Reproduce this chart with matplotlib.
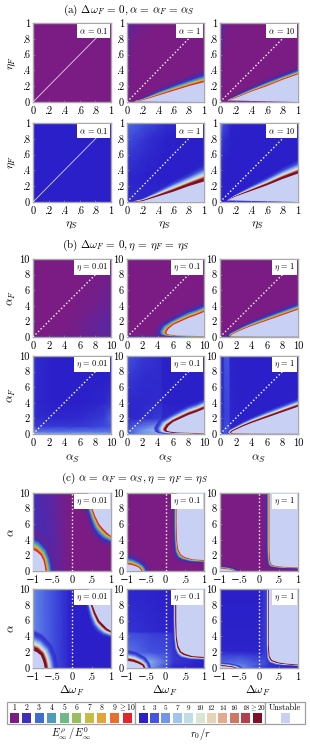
#!/usr/bin/env python3
"""Stability maps of the front speed and radius for three parameter sweeps."""
import matplotlib
matplotlib.use("Agg")
import matplotlib.pyplot as plt
import numpy as np
from matplotlib.colors import LinearSegmentedColormap, Normalize
from matplotlib.patches import Rectangle

plt.rcParams["mathtext.fontset"] = "cm"
plt.rcParams["font.family"] = ["cmr10", "DejaVu Serif"]
plt.rcParams["axes.formatter.use_mathtext"] = True

# legend scales
E_LEVELS = [1, 2, 3, 4, 5, 6, 7, 8, 9, 10]
E_LABELS = ["1", "2", "3", "4", "5", "6", "7", "8", "9", r"$\geq$10"]
E_COLORS = ["#7b1c84", "#3f2fbb", "#3e6fd0", "#4e9db8", "#6fb888",
            "#98be5e", "#c5be42", "#e4a43a", "#e86f2e", "#e3262a"]
R_LEVELS = [1, 3, 5, 7, 9, 10, 12, 14, 16, 18, 20]
R_LABELS = ["1", "3", "5", "7", "9", "10", "12", "14", "16", "18", r"$\geq$20"]
R_COLORS = ["#2a1fc8", "#4455e0", "#7396ec", "#a0c4ee", "#bedde6", "#dce4d4",
            "#e8d4b4", "#e4aa8c", "#cc7865", "#b0404c", "#7e1028"]
UNSTABLE = "#c8d0f4"

# background fields: x knots, y knots, values with the lowest y row first
FLAT_ETA = ([0, 1], [0, 1], [[1, 1], [1, 1]])
A2_FIELD = ([0, .1, .3, 1], [0, .5, .8, 1],
            [[1.1, 1, 1, 1], [1.2, 1, 1, 1], [1.4, 1.1, 1, 1], [1.7, 1.3, 1, 1]])
A3_FIELD = ([0, .05, .15, 1], [0, .5, .8, 1],
            [[1.2, 1, 1, 1], [1.5, 1, 1, 1], [1.8, 1.1, 1, 1], [2, 1.3, 1, 1]])
B2_FIELD = ([0, .25, .5, .8, 1], [0, .3, .6, .8, 1],
            [[1.5, 1.5, 1.5, 1.5, 1.5], [1.3, 1, 1, 1, 1.5],
             [2, 1.4, 1, 1, 1], [2.8, 1.7, 1.1, 1, 1], [3.6, 2.6, 1.6, 1, 1]])
B3_FIELD = ([0, .05, .15, .3, 1], [0, .5, .8, 1],
            [[1, 1, 1, 1, 1], [2, 1.2, 1, 1, 1], [3, 1.6, 1, 1, 1], [5, 2.6, 1.2, 1, 1]])
C1_FIELD = ([0, .2, .6, 2, 5, 8, 10], [0, .2, .5, 1.5, 4, 10],
            [[1.8, 1.8, 1.7, 1.7, 1.7, 1.8, 1.8],
             [2, 1.2, 1.05, 1.05, 1.2, 1.4, 1.5],
             [2, 1.1, 1, 1, 1.1, 1.4, 1.5],
             [2, 1.1, 1, 1, 1.05, 1.4, 1.6],
             [2, 1.1, 1, 1, 1, 1.2, 1.4],
             [2, 1.1, 1, 1, 1, 1, 1]])
C2_FIELD = ([0, 10], [0, .15, .3, 10], [[2, 2], [1.6, 1.6], [1, 1], [1, 1]])
C3_FIELD = ([0, 10], [0, .15, .3, 10], [[2, 2], [1.5, 1.5], [1, 1], [1, 1]])
D1_FIELD = ([0, .5, 3, 6, 9, 10], [0, .3, 1, 2, 4, 7, 10],
            [[6, 6, 6, 6, 6, 6], [5, 4, 4, 4, 4, 4], [2.5, 2, 2, 2, 2.5, 3],
             [2, 1.5, 1.3, 1.5, 2, 3.5], [2, 1.3, 1, 1, 1.3, 1.8],
             [2, 1.3, 1, 1, 1, 1.2], [2, 1.5, 1, 1, 1, 1.2]])
D2_FIELD = ([0, 2, 4.4, 4.7, 10], [0, .5, 2, 4, 7, 10],
            [[3, 5, 6, 4, 1.5], [3, 5, 7, 5, 2], [1.3, 1.5, 2.2, 1.5, 1.1],
             [1.3, 1.3, 1.5, 1.1, 1], [2, 1.5, 1.4, 1.1, 1], [3, 2, 1.5, 1.1, 1]])
D3_FIELD = ([0, .4, .6, 1.2, 1.3, 3, 10], [0, .3, 1, 3, 10],
            [[3, 3, 3, 3, 2, 1, 1], [2, 2, 3, 4, 2, 1, 1],
             [2, 2, 2.5, 2.5, 1.3, 1, 1], [1.5, 1.5, 2.2, 2.5, 1.3, 1, 1],
             [1.5, 1.5, 3, 3, 1.2, 1, 1]])
E1_FIELD = ([-1, -.6, -.2, 0, .3, 1], [0, 10],
            [[1.8, 1.8, 1.2, 1, 1, 1], [1.9, 1.6, 1.15, 1, 1, 1]])
E2_FIELD = ([-1, 1], [0, 10], [[1, 1], [1, 1]])
E3_FIELD = ([-1, 1], [0, 10], [[1, 1], [1, 1]])
F1_FIELD = ([-1, -.7, -.4, -.1, 0, 1], [0, 10],
            [[4.5, 3.5, 2.5, 1.3, 1, 1], [4.5, 3.5, 2.5, 1.3, 1, 1]])
F2_FIELD = ([-1, -.4, .1, .2, 1], [0, .8, 2, 4.4, 4.6, 10],
            [[6, 5, 2, 1.2, 1], [6, 6, 3, 2, 1], [4, 3, 2.5, 2, 1],
             [3, 2.2, 2, 1.7, 1], [1.8, 1.5, 1.2, 1.2, 1], [1.3, 1.2, 1, 1, 1]])
F3_FIELD = ([-1, -.5, 0, .12, .25, 1], [0, .6, 1.7, 2.2, 10],
            [[5, 5, 2.5, 2, 1.5, 1], [3.5, 4, 3, 3, 2, 1],
             [2.2, 2.2, 1.8, 2.2, 2.5, 1], [1.2, 1.2, 1.2, 2, 2.5, 1],
             [1, 1, 1, 1.8, 2.5, 1]])

# unstable edges: edge x, edge y, halo x, halo y, extra polygon corner
ETA_X = [.1, .2, .4, .6, .8, 1]
A2_EDGE = (ETA_X, [.005, .02, .08, .14, .2, .25], ETA_X, [.02, .06, .17, .26, .34, .42], [(1, 0)])
A3_EDGE = (ETA_X, [.02, .05, .13, .2, .28, .35], ETA_X, [.03, .1, .2, .3, .37, .45], [(1, 0)])
B2_EDGE = (ETA_X, [0, .01, .07, .13, .2, .26], ETA_X, [.02, .05, .16, .28, .38, .5], [(1, 0)])
B3_EDGE = (ETA_X, [.02, .07, .14, .21, .29, .36], ETA_X, [.03, .1, .22, .33, .45, .55], [(1, 0)])

NOSE_MID_X = [10, 9, 8, 7, 6, 5.4, 5.1, 5.2, 5.6, 6.5, 8, 10]
NOSE_MID_Y = [3.2, 2.8, 2.45, 2, 1.55, 1.05, .6, .4, .3, .2, .15, .1]
NOSE_MID_HX = [10, 9, 8, 7, 5.5, 4, 3.4, 3.5, 4, 5, 7, 10]
NOSE_MID_HY = [4.7, 4.2, 3.9, 3.4, 2.6, 1.8, .8, .3, .1, 0, 0, 0]
NOSE_LOW_X = [10, 8, 6, 4, 3, 2, 1.6, 1.4, 1.6, 3, 6, 10]
NOSE_LOW_Y = [3.5, 2.8, 2.1, 1.4, 1, .55, .35, .2, .1, .08, .05, .05]
NOSE_LOW_HX = [10, 8, 6, 4, 3, 1.8, 1, .8, 1, 2, 5, 10]
NOSE_LOW_HY = [4.7, 3.9, 3.1, 2.2, 1.7, 1, .6, .2, 0, 0, 0, 0]
C2_EDGE = (NOSE_MID_X, NOSE_MID_Y, NOSE_MID_HX, NOSE_MID_HY, [])
C3_EDGE = (NOSE_LOW_X, NOSE_LOW_Y, NOSE_LOW_HX, NOSE_LOW_HY, [])

E1_LOBE = ([-1, -.9, -.8, -.73, -.7, -.68], [2.7, 2.45, 2, 1.3, .6, 0],
           [-1, -.8, -.55, -.45, -.4, -.38], [5.5, 5, 3.5, 2, 1, 0], [(-1, 0)])
E1_RIGHT = ([.42, .5, .6, .7, .8, .9, 1], [10, 8.3, 7, 6, 5.4, 4.9, 4.5],
            [.25, .3, .38, .45, .55, .7, 1], [10, 8, 6.3, 5, 4.2, 3.5, 3], [(1, 10)])
E2_LOBE = ([-1, -.9, -.8, -.7, -.65, -.63], [.85, .8, .65, .45, .2, 0],
           [-1, -.8, -.55, -.45, -.4, -.38], [2.5, 2.2, 1.5, .9, .4, 0], [(-1, 0)])
E2_RIGHT = ([.29, .29, .3, .33, .4, .5, .7, 1], [10, 6, 4, 2.8, 2.1, 1.8, 1.5, 1.4],
            [.17, .17, .18, .2, .25, .35, .6, 1], [10, 6, 3.5, 2, 1.5, 1.2, 1, .9], [(1, 10)])
E3_LOBE = ([-1, -.85, -.72, -.65], [.3, .25, .15, 0],
           [-1, -.8, -.6, -.5], [.8, .7, .4, 0], [(-1, 0)])
E3_RIGHT = ([.27, .27, .28, .3, .35, .5, .7, 1], [10, 3, 1.6, 1, .75, .6, .52, .47],
            [.15, .15, .17, .2, .25, .4, .6, 1], [10, 3, 1.2, .6, .4, .3, .25, .2], [(1, 10)])
F1_LOBE = ([-1, -.9, -.8, -.75, -.72, -.7], [2.2, 2, 1.6, 1, .5, 0],
           [-1, -.75, -.5, -.4, -.36, -.34], [5, 4.4, 3, 1.8, .8, 0], [(-1, 0)])
F1_RIGHT = ([.43, .5, .6, .7, .8, .9, 1], [10, 8.3, 7, 6, 5.5, 5, 4.7],
            [.3, .35, .42, .5, .6, .75, 1], [10, 8, 6.3, 5.2, 4.5, 4, 3.7], [(1, 10)])
F2_LOBE = ([-1, -.85, -.7, -.6, -.57], [.9, .8, .55, .3, 0],
           [-1, -.75, -.5, -.4, -.36], [2.4, 2.1, 1.4, .7, 0], [(-1, 0)])
F2_RIGHT = ([.28, .28, .29, .33, .4, .5, .7, 1], [10, 6, 4, 2.8, 2.1, 1.8, 1.5, 1.4],
            [.18, .18, .2, .22, .27, .35, .6, 1], [10, 6, 3.5, 2.2, 1.6, 1.2, 1, .95], [(1, 10)])
F3_LOBE = ([-1, -.85, -.7, -.62], [.25, .2, .1, 0],
           [-1, -.75, -.5, -.4], [.7, .6, .35, 0], [(-1, 0)])
F3_RIGHT = ([.25, .25, .27, .33, .5, .7, 1], [10, 3, 1.5, 1, .7, .55, .45],
            [.17, .17, .19, .24, .4, .6, 1], [10, 3, 1.1, .6, .35, .28, .22], [(1, 10)])

# value along the halo, going out from the unstable edge
E_RAMP = ([0, .1, .2, .35, .55, 1], [10, 10, 7.5, 4, 2, 1])
R_RAMP = ([0, .18, .25, .35, .5, .7, 1], [20, 20, 16, 10, 6, 2.5, 1])

ETA_TICKS = [0, .2, .4, .6, .8, 1]
ETA_TICK_LABELS = ["0", ".2", ".4", ".6", ".8", "1"]
ALPHA_TICKS = [0, 2, 4, 6, 8, 10]
ALPHA_TICK_LABELS = ["0", "2", "4", "6", "8", "10"]
DW_TICKS = [-1, -.5, 0, .5, 1]
DW_TICK_LABELS = ["\u22121", "\u2212.5", "0", ".5", "1"]

COL_X = [(33, 111), (127, 204), (220, 298)]
ROW_Y = [(23, 102), (123, 202), (259, 337), (356, 434), (493, 571), (589, 668)]
W, H = 310, 744


def make_scale(levels, colors):
    vmin, vmax = levels[0], levels[-1]
    stops = [(v - vmin) / (vmax - vmin) for v in levels]
    return LinearSegmentedColormap.from_list("scale", list(zip(stops, colors))), Normalize(vmin, vmax)


def draw_edge(ax, edge, cmap, norm, ramp):
    x, y, hx, hy, corners = [np.asarray(v, dtype=float) if i < 4 else v for i, v in enumerate(edge)]
    for t in np.linspace(1, 0, 30):
        lx, ly = x + (hx - x) * t, y + (hy - y) * t
        value = np.interp(t, ramp[0], ramp[1])
        ax.fill(np.r_[lx, x[::-1]], np.r_[ly, y[::-1]], color=cmap(norm(value)),
                alpha=min(1, (1 - t) * 5), lw=0, zorder=2)
    px = np.r_[x, [c[0] for c in corners]]
    py = np.r_[y, [c[1] for c in corners]]
    ax.fill(px, py, color=UNSTABLE, lw=0, zorder=3)


def draw_panel(fig, row, col, field, edges, limits, ticks, tick_labels, tag, cmap, norm, ramp, guide):
    x0, x1 = COL_X[col]
    y0, y1 = ROW_Y[row]
    ax = fig.add_axes([x0 / W, 1 - y1 / H, (x1 - x0) / W, (y1 - y0) / H])
    fx, fy, fv = field
    ax.pcolormesh(fx, fy, np.array(fv, dtype=float), shading="gouraud", cmap=cmap, norm=norm, zorder=1)
    for edge in edges:
        draw_edge(ax, edge, cmap, norm, ramp)
    ax.set_xlim(limits[0])
    ax.set_ylim(limits[1])
    ax.set_xticks(ticks[0], tick_labels[0])
    ax.set_yticks(ticks[1], tick_labels[1])
    ax.tick_params(labelsize=7.5, length=1.5, width=0.5, color="#888888", pad=2.2, direction="in")
    ax.tick_params(axis="x", pad=3.2)
    for spine in ax.spines.values():
        spine.set_color("#a8a8a8")
        spine.set_linewidth(1.0)

    # guide line stops under the tag box
    if guide == "solid":
        ax.plot([limits[0][0], limits[0][1] * .88], [limits[1][0], limits[1][1] * .88],
                color="white", lw=0.6, alpha=.8, zorder=4)
    elif guide == "dots":
        ax.plot([limits[0][0], limits[0][1] * .88], [limits[1][0], limits[1][1] * .88],
                color="white", lw=1.0, ls=(0, (1, 1.6)), zorder=4)
    else:
        ax.plot([0, 0], limits[1], color="white", lw=1.0, ls=(0, (1, 1.6)), zorder=4)
    ax.text(.965, .96, tag, transform=ax.transAxes, ha="right", va="top", fontsize=6, zorder=5,
            bbox=dict(facecolor="white", edgecolor="none", pad=1.5))


def main():
    e_cmap, e_norm = make_scale(E_LEVELS, E_COLORS)
    r_cmap, r_norm = make_scale(R_LEVELS, R_COLORS)
    fig = plt.figure(figsize=(W / 100, H / 100), dpi=100)

    alpha_tags = [r"$\alpha\,=\,0.1$", r"$\alpha\,=\,1$", r"$\alpha\,=\,10$"]
    eta_tags = [r"$\eta\,=\,0.01$", r"$\eta\,=\,0.1$", r"$\eta\,=\,1$"]
    sections = [
        (0, [FLAT_ETA, A2_FIELD, A3_FIELD], [[], [A2_EDGE], [A3_EDGE]], alpha_tags,
         ((0, 1), (0, 1)), (ETA_TICKS, ETA_TICKS), (ETA_TICK_LABELS, ETA_TICK_LABELS), "e"),
        (1, [FLAT_ETA, B2_FIELD, B3_FIELD], [[], [B2_EDGE], [B3_EDGE]], alpha_tags,
         ((0, 1), (0, 1)), (ETA_TICKS, ETA_TICKS), (ETA_TICK_LABELS, ETA_TICK_LABELS), "r"),
        (2, [C1_FIELD, C2_FIELD, C3_FIELD], [[], [C2_EDGE], [C3_EDGE]], eta_tags,
         ((0, 10), (0, 10)), (ALPHA_TICKS, ALPHA_TICKS), (ALPHA_TICK_LABELS, ALPHA_TICK_LABELS), "e"),
        (3, [D1_FIELD, D2_FIELD, D3_FIELD], [[], [C2_EDGE], [C3_EDGE]], eta_tags,
         ((0, 10), (0, 10)), (ALPHA_TICKS, ALPHA_TICKS), (ALPHA_TICK_LABELS, ALPHA_TICK_LABELS), "r"),
        (4, [E1_FIELD, E2_FIELD, E3_FIELD], [[E1_LOBE, E1_RIGHT], [E2_LOBE, E2_RIGHT], [E3_LOBE, E3_RIGHT]], eta_tags,
         ((-1, 1), (0, 10)), (DW_TICKS, ALPHA_TICKS), (DW_TICK_LABELS, ALPHA_TICK_LABELS), "e"),
        (5, [F1_FIELD, F2_FIELD, F3_FIELD], [[F1_LOBE, F1_RIGHT], [F2_LOBE, F2_RIGHT], [F3_LOBE, F3_RIGHT]], eta_tags,
         ((-1, 1), (0, 10)), (DW_TICKS, ALPHA_TICKS), (DW_TICK_LABELS, ALPHA_TICK_LABELS), "r"),
    ]
    for row, fields, edges, tags, limits, ticks, labels, kind in sections:
        cmap, norm, ramp = (e_cmap, e_norm, E_RAMP) if kind == "e" else (r_cmap, r_norm, R_RAMP)
        for col in range(3):
            if row >= 4:
                guide = "vert"
            elif row < 2 and col == 0:
                guide = "solid"
            else:
                guide = "dots"
            draw_panel(fig, row, col, fields[col], edges[col], limits, ticks, labels,
                       tags[col], cmap, norm, ramp, guide)

    # pixel-space overlay for titles, axis names and the legend strip
    over = fig.add_axes([0, 0, 1, 1], facecolor="none")
    over.set_xlim(0, W)
    over.set_ylim(H, 0)
    over.axis("off")

    over.text(129, 10, r"(a) $\Delta\omega_F\,=\,0, \alpha\,=\,\alpha_F\,=\,\alpha_S$", ha="center", va="center", fontsize=8)
    over.text(126, 245, r"(b) $\Delta\omega_F\,=\,0, \eta\,=\,\eta_F\,=\,\eta_S$", ha="center", va="center", fontsize=8)
    over.text(135, 478, r"(c) $\alpha\,=\,\alpha_F\,=\,\alpha_S, \eta\,=\,\eta_F\,=\,\eta_S$", ha="center", va="center", fontsize=8)

    for y, name in [(63, r"$\eta_F$"), (162, r"$\eta_F$"), (298, r"$\alpha_F$"), (395, r"$\alpha_F$"), (532, r"$\alpha$"), (628, r"$\alpha$")]:
        over.text(12, y, name, rotation=90, ha="center", va="center", fontsize=8.5)
    for y, name in [(225, r"$\eta_S$"), (459, r"$\alpha_S$"), (691, r"$\Delta\omega_F$")]:
        for x in (72, 165, 258):
            over.text(x, y, name, ha="center", va="center", fontsize=8.5)

    for x0, x1 in [(7, 135), (135, 265), (265, 305)]:
        over.add_patch(Rectangle((x0, 702), x1 - x0, 22, fc="white", ec="#a0a0a0", lw=0.9))
    e_x = np.linspace(14, 127, len(E_LEVELS))
    for x, label, color in zip(e_x, E_LABELS, E_COLORS):
        over.text(x, 708, label, ha="center", va="center", fontsize=5.5)
        over.add_patch(Rectangle((x - 4.5, 713), 9, 9.5, fc=color, ec="none"))
    r_x = np.linspace(143, 257, len(R_LEVELS))
    for x, label, color in zip(r_x, R_LABELS, R_COLORS):
        over.text(x, 708, label, ha="center", va="center", fontsize=5.2)
        over.add_patch(Rectangle((x - 4.5, 713), 9, 9.5, fc=color, ec="none"))
    over.text(285, 708, "Unstable", ha="center", va="center", fontsize=6)
    over.add_patch(Rectangle((280.5, 713), 9, 9.5, fc=UNSTABLE, ec="none"))
    over.text(71, 734, r"$E^{\rho}_{\infty}\,/\,E^{0}_{\infty}$", ha="center", va="center", fontsize=7.5)
    over.text(200, 734, r"$r_0/r$", ha="center", va="center", fontsize=7.5)

    fig.savefig("out.png", dpi=100)
    plt.close(fig)


if __name__ == "__main__":
    main()
